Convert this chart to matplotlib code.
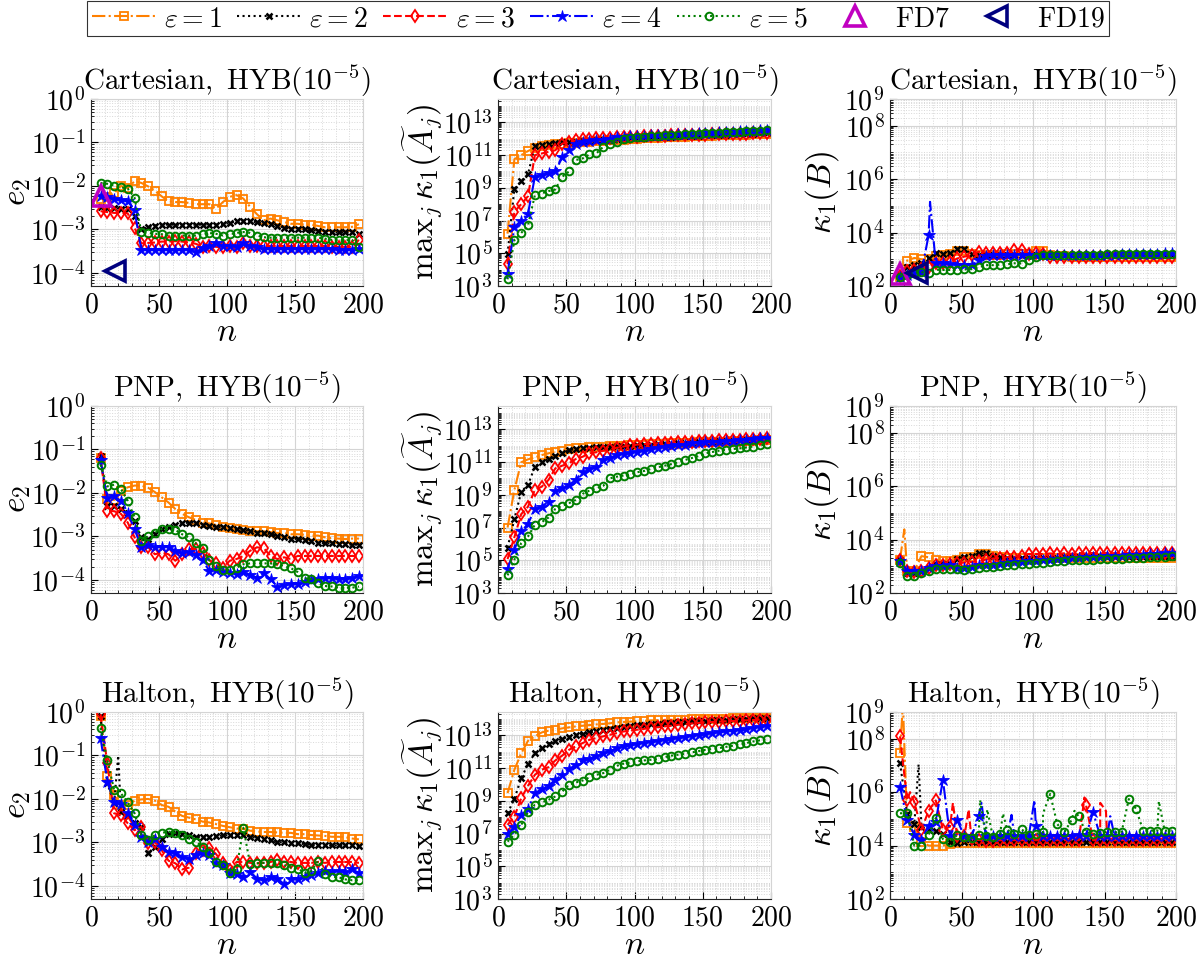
import matplotlib

matplotlib.use("Agg")
import matplotlib.pyplot as plt
import numpy as np
from matplotlib.lines import Line2D
from matplotlib.ticker import FixedLocator, FuncFormatter, LogLocator, MultipleLocator, NullFormatter

plt.rcParams["mathtext.fontset"] = "cm"
plt.rcParams["font.family"] = ["DejaVu Serif"]

# sample sizes at which the markers sit
N = np.arange(7, 198, 5)

# all values are log10 of the plotted quantity, one list per epsilon (1..5)
cart_e2 = [
    [-2.30, -2.26, -2.17, -2.00, -2.05, -1.89, -1.93, -2.01, -2.11, -2.24,
     -2.35, -2.37, -2.37, -2.39, -2.42, -2.42, -2.42, -2.52, -2.37, -2.25,
     -2.21, -2.29, -2.48, -2.65, -2.79, -2.75, -2.79, -2.83, -2.87, -2.87,
     -2.89, -2.89, -2.92, -2.95, -2.95, -2.95, -2.95, -2.94, -2.88],
    [-2.48, -2.50, -2.51, -2.52, -2.53, -2.68, -3.00, -2.95, -2.91, -2.89,
     -2.89, -2.89, -2.89, -2.89, -2.89, -2.89, -2.89, -2.89, -2.88, -2.85,
     -2.81, -2.80, -2.81, -2.84, -2.85, -2.87, -2.91, -2.96, -2.98, -2.98,
     -3.00, -3.02, -3.03, -3.05, -3.07, -3.07, -3.07, -3.07, -3.10],
    [-2.58, -2.60, -2.62, -2.62, -2.63, -2.96, -3.32, -3.31, -3.30, -3.28,
     -3.28, -3.27, -3.28, -3.30, -3.33, -3.40, -3.37, -3.40, -3.41, -3.37,
     -3.40, -3.32, -3.37, -3.38, -3.38, -3.38, -3.38, -3.38, -3.38, -3.38,
     -3.38, -3.38, -3.38, -3.38, -3.40, -3.40, -3.40, -3.40, -3.24],
    [-2.22, -2.25, -2.31, -2.33, -2.35, -2.56, -3.47, -3.47, -3.47, -3.47,
     -3.47, -3.47, -3.47, -3.47, -3.52, -3.43, -3.37, -3.32, -3.37, -3.37,
     -3.40, -3.32, -3.37, -3.41, -3.45, -3.45, -3.45, -3.45, -3.45, -3.45,
     -3.45, -3.45, -3.45, -3.45, -3.45, -3.48, -3.48, -3.47, -3.46],
    [-1.93, -1.95, -1.99, -2.03, -2.06, -2.27, -3.06, -3.08, -3.10, -3.11,
     -3.14, -3.14, -3.14, -3.14, -3.14, -3.10, -3.08, -3.10, -3.14, -3.11,
     -3.08, -3.06, -3.08, -3.14, -3.18, -3.19, -3.19, -3.19, -3.19, -3.19,
     -3.19, -3.19, -3.19, -3.21, -3.24, -3.25, -3.25, -3.24, -3.41],
]

cart_ka = [
    [6.20, 10.75, 11.00, 11.25, 11.45, 11.55, 11.60, 11.65, 11.70, 11.73,
     11.76, 11.80, 11.82, 11.85, 11.87, 11.90, 11.92, 11.95, 11.97, 12.00,
     12.02, 12.04, 12.06, 12.08, 12.10, 12.11, 12.12, 12.14, 12.15, 12.17,
     12.18, 12.20, 12.21, 12.22, 12.24, 12.25, 12.27, 12.28, 12.30],
    [4.95, 8.95, 9.40, 9.85, 11.55, 11.62, 11.68, 11.75, 11.78, 11.80,
     11.83, 11.86, 11.88, 11.90, 11.92, 11.95, 11.97, 12.00, 12.02, 12.04,
     12.06, 12.08, 12.10, 12.12, 12.13, 12.15, 12.16, 12.18, 12.19, 12.21,
     12.22, 12.24, 12.25, 12.27, 12.28, 12.30, 12.31, 12.33, 12.34],
    [4.33, 7.53, 8.00, 8.49, 11.00, 11.10, 11.20, 11.30, 11.70, 11.80,
     11.90, 11.98, 12.00, 12.02, 12.04, 12.06, 12.08, 12.10, 12.12, 12.13,
     12.15, 12.16, 12.18, 12.19, 12.20, 12.21, 12.22, 12.23, 12.25, 12.26,
     12.27, 12.28, 12.29, 12.30, 12.31, 12.32, 12.33, 12.34, 12.35],
    [3.75, 6.60, 7.00, 7.43, 9.67, 9.78, 9.88, 10.00, 10.86, 11.30,
     11.70, 11.80, 11.88, 11.90, 11.95, 11.98, 12.08, 12.12, 12.14, 12.16,
     12.18, 12.20, 12.22, 12.24, 12.26, 12.28, 12.30, 12.32, 12.34, 12.36,
     12.38, 12.40, 12.42, 12.44, 12.46, 12.48, 12.50, 12.52, 12.55],
    [3.41, 5.80, 6.24, 6.71, 8.55, 8.65, 8.80, 8.90, 9.67, 10.00,
     10.70, 10.80, 11.04, 11.10, 11.50, 11.70, 11.78, 12.00, 12.05, 12.08,
     12.12, 12.15, 12.18, 12.20, 12.23, 12.25, 12.28, 12.30, 12.32, 12.34,
     12.36, 12.38, 12.40, 12.42, 12.44, 12.46, 12.48, 12.50, 12.52],
]

cart_kb = [
    [2.35, 2.95, 3.05, 3.00, 3.00, 3.11, 3.15, 3.18, 3.30, 3.32,
     3.20, 3.17, 3.17, 3.17, 3.17, 3.20, 3.20, 3.20, 3.20, 3.30,
     3.30, 3.17, 3.12, 3.12, 3.10, 3.10, 3.10, 3.10, 3.10, 3.10,
     3.10, 3.10, 3.10, 3.10, 3.10, 3.10, 3.10, 3.10, 3.10],
    [2.40, 2.70, 2.80, 2.85, 3.05, 3.23, 3.20, 3.22, 3.40, 3.40,
     3.18, 3.15, 3.15, 3.15, 3.15, 3.15, 3.15, 3.15, 3.15, 3.15,
     3.15, 3.15, 3.15, 3.15, 3.15, 3.15, 3.15, 3.15, 3.15, 3.15,
     3.15, 3.15, 3.15, 3.15, 3.15, 3.15, 3.15, 3.15, 3.15],
    [2.38, 2.55, 2.60, 2.65, 2.70, 2.86, 2.85, 2.90, 3.03, 3.10,
     3.15, 3.28, 3.25, 3.22, 3.22, 3.22, 3.36, 3.36, 3.20, 3.25,
     3.18, 3.10, 3.08, 3.08, 3.08, 3.08, 3.08, 3.08, 3.08, 3.08,
     3.08, 3.08, 3.08, 3.08, 3.08, 3.08, 3.08, 3.08, 3.08],
    [2.35, 2.40, 2.48, 2.52, 3.90, 2.85, 2.85, 2.82, 2.80, 2.78,
     2.77, 2.96, 3.12, 3.15, 3.15, 3.15, 3.15, 3.15, 3.15, 3.15,
     3.15, 3.15, 3.15, 3.15, 3.15, 3.15, 3.15, 3.15, 3.15, 3.15,
     3.17, 3.18, 3.18, 3.19, 3.20, 3.20, 3.21, 3.22, 3.22],
    [2.35, 2.43, 2.50, 2.52, 2.47, 2.61, 2.60, 2.60, 2.61, 2.62,
     2.63, 2.70, 2.78, 2.78, 2.80, 2.81, 2.85, 2.84, 2.99, 3.08,
     3.15, 3.15, 3.15, 3.15, 3.15, 3.15, 3.15, 3.17, 3.17, 3.18,
     3.18, 3.18, 3.19, 3.19, 3.20, 3.20, 3.20, 3.20, 3.20],
]

pnp_e2 = [
    [-1.19, -2.14, -2.16, -1.95, -1.87, -1.83, -1.83, -1.88, -1.98, -2.10,
     -2.22, -2.37, -2.48, -2.56, -2.62, -2.68, -2.70, -2.74, -2.78, -2.81,
     -2.83, -2.85, -2.87, -2.88, -2.88, -2.90, -2.92, -2.92, -2.95, -2.95,
     -2.96, -2.98, -2.98, -3.02, -3.04, -3.05, -3.06, -3.05, -3.05],
    [-1.16, -2.29, -2.29, -2.37, -2.45, -2.64, -3.02, -3.06, -2.95, -2.83,
     -2.78, -2.74, -2.70, -2.68, -2.68, -2.73, -2.75, -2.78, -2.79, -2.81,
     -2.83, -2.85, -2.88, -2.91, -2.92, -2.95, -2.98, -3.02, -3.05, -3.06,
     -3.08, -3.10, -3.14, -3.16, -3.16, -3.18, -3.18, -3.19, -3.19],
    [-1.19, -2.41, -2.42, -2.48, -2.68, -3.02, -3.25, -3.25, -3.41, -3.37,
     -3.41, -3.56, -3.41, -3.29, -3.29, -3.37, -3.55, -3.62, -3.72, -3.56,
     -3.52, -3.45, -3.33, -3.25, -3.27, -3.45, -3.52, -3.48, -3.52, -3.45,
     -3.45, -3.45, -3.45, -3.45, -3.45, -3.45, -3.45, -3.45, -3.45],
    [-1.25, -2.12, -2.08, -2.18, -2.45, -2.83, -3.25, -3.20, -3.25, -3.24,
     -3.24, -3.33, -3.37, -3.35, -3.43, -3.55, -3.79, -3.78, -3.81, -3.83,
     -3.87, -3.82, -3.88, -3.95, -3.85, -3.98, -4.16, -4.12, -4.10, -4.10,
     -4.04, -4.01, -3.98, -3.96, -3.96, -3.98, -3.98, -3.96, -3.91],
    [-1.35, -1.85, -1.81, -1.91, -2.18, -2.56, -3.10, -3.00, -2.91, -2.83,
     -2.83, -2.85, -2.95, -3.02, -3.16, -3.27, -3.55, -3.68, -3.77, -3.77,
     -3.72, -3.64, -3.62, -3.62, -3.62, -3.62, -3.64, -3.68, -3.73, -3.82,
     -3.96, -3.98, -4.08, -4.14, -4.15, -4.18, -4.18, -4.18, -4.15],
]

pnp_ka = [
    [7.00, 9.30, 10.99, 11.17, 11.29, 11.43, 11.54, 11.64, 11.70, 11.78,
     11.84, 11.87, 11.90, 11.92, 11.94, 11.96, 11.98, 12.00, 12.02, 12.04,
     12.06, 12.08, 12.10, 12.12, 12.14, 12.15, 12.17, 12.18, 12.20, 12.21,
     12.23, 12.24, 12.26, 12.27, 12.29, 12.30, 12.32, 12.33, 12.35],
    [5.78, 7.50, 9.20, 9.60, 10.72, 11.03, 11.19, 11.40, 11.58, 11.72,
     11.80, 11.85, 11.88, 11.91, 11.93, 11.95, 11.97, 11.99, 12.01, 12.03,
     12.05, 12.07, 12.09, 12.11, 12.13, 12.15, 12.17, 12.19, 12.21, 12.23,
     12.25, 12.27, 12.29, 12.31, 12.33, 12.35, 12.37, 12.39, 12.41],
    [5.07, 6.41, 7.82, 8.28, 9.30, 9.50, 9.91, 10.62, 10.78, 10.93,
     11.19, 11.33, 11.54, 11.60, 11.70, 11.78, 11.88, 11.95, 12.04, 12.07,
     12.10, 12.13, 12.15, 12.17, 12.19, 12.21, 12.23, 12.25, 12.27, 12.29,
     12.31, 12.33, 12.35, 12.37, 12.38, 12.40, 12.42, 12.43, 12.45],
    [4.48, 5.64, 6.76, 7.23, 8.14, 8.28, 8.59, 9.24, 9.44, 9.60,
     9.91, 10.42, 10.58, 10.72, 11.13, 11.27, 11.43, 11.52, 11.58, 11.64,
     11.70, 11.80, 11.87, 11.94, 11.98, 12.02, 12.06, 12.15, 12.18, 12.20,
     12.23, 12.26, 12.29, 12.32, 12.35, 12.38, 12.42, 12.46, 12.50],
    [4.08, 5.03, 6.05, 6.46, 7.17, 7.33, 7.61, 8.14, 8.33, 8.49,
     8.69, 9.06, 9.26, 9.40, 9.54, 10.01, 10.11, 10.18, 10.26, 10.38,
     10.46, 10.58, 10.68, 10.78, 10.88, 10.99, 11.13, 11.25, 11.37, 11.54,
     11.62, 11.70, 11.76, 11.80, 11.84, 11.90, 11.95, 12.02, 12.08],
]

pnp_kb = [
    [3.25, 2.84, 2.84, 3.38, 3.34, 3.25, 3.19, 3.19, 3.25, 3.36,
     3.36, 3.46, 3.46, 3.38, 3.34, 3.31, 3.31, 3.31, 3.31, 3.31,
     3.31, 3.31, 3.31, 3.31, 3.31, 3.31, 3.31, 3.31, 3.31, 3.31,
     3.31, 3.31, 3.31, 3.31, 3.31, 3.31, 3.31, 3.31, 3.31],
    [3.25, 2.75, 2.75, 2.84, 2.94, 3.09, 3.09, 3.09, 3.29, 3.36,
     3.40, 3.48, 3.48, 3.40, 3.34, 3.31, 3.31, 3.31, 3.31, 3.31,
     3.32, 3.32, 3.32, 3.33, 3.33, 3.33, 3.34, 3.34, 3.34, 3.35,
     3.35, 3.35, 3.35, 3.35, 3.35, 3.35, 3.36, 3.36, 3.36],
    [3.25, 2.81, 2.78, 2.84, 2.94, 3.03, 3.06, 3.09, 3.11, 3.14,
     3.16, 3.19, 3.25, 3.29, 3.31, 3.34, 3.36, 3.40, 3.46, 3.46,
     3.46, 3.48, 3.46, 3.49, 3.47, 3.50, 3.48, 3.50, 3.48, 3.50,
     3.49, 3.50, 3.49, 3.50, 3.49, 3.50, 3.49, 3.50, 3.50],
    [3.19, 2.84, 2.81, 2.84, 2.94, 3.00, 3.00, 3.03, 2.94, 2.94,
     2.96, 3.03, 3.04, 3.06, 3.09, 3.12, 3.15, 3.16, 3.19, 3.21,
     3.23, 3.25, 3.27, 3.29, 3.30, 3.32, 3.33, 3.35, 3.36, 3.38,
     3.39, 3.40, 3.42, 3.43, 3.44, 3.45, 3.46, 3.48, 3.50],
    [3.12, 2.65, 2.65, 2.75, 2.81, 2.91, 2.91, 2.91, 2.88, 2.86,
     2.89, 2.94, 2.97, 2.99, 3.01, 3.05, 3.06, 3.09, 3.10, 3.11,
     3.14, 3.16, 3.19, 3.21, 3.22, 3.23, 3.24, 3.25, 3.26, 3.27,
     3.28, 3.29, 3.30, 3.31, 3.32, 3.33, 3.34, 3.35, 3.37],
]

halton_e2 = [
    [-0.10, -1.48, -1.90, -2.14, -2.14, -2.04, -2.01, -2.00, -2.04, -2.14,
     -2.18, -2.29, -2.39, -2.43, -2.47, -2.52, -2.54, -2.58, -2.62, -2.65,
     -2.68, -2.69, -2.73, -2.75, -2.76, -2.76, -2.77, -2.78, -2.78, -2.81,
     -2.81, -2.83, -2.84, -2.85, -2.87, -2.87, -2.88, -2.91, -2.93],
    [-0.10, -1.64, -2.10, -2.30, -2.40, -2.56, -2.64, -3.25, -3.10, -2.93,
     -2.81, -2.78, -2.81, -2.83, -2.87, -2.88, -2.88, -2.85, -2.84, -2.83,
     -2.83, -2.83, -2.87, -2.90, -2.93, -2.95, -2.99, -3.00, -3.02, -3.02,
     -3.04, -3.06, -3.06, -3.06, -3.07, -3.07, -3.06, -3.07, -3.08],
    [-0.05, -1.18, -2.33, -2.37, -2.56, -2.72, -2.64, -3.02, -3.00, -3.18,
     -3.42, -3.48, -3.62, -3.58, -3.25, -3.18, -3.12, -3.27, -3.48, -3.64,
     -3.45, -3.45, -3.47, -3.48, -3.47, -3.45, -3.41, -3.45, -3.45, -3.47,
     -3.47, -3.47, -3.45, -3.47, -3.45, -3.45, -3.45, -3.45, -3.47],
    [-0.60, -1.60, -2.08, -2.12, -2.32, -2.60, -2.87, -2.98, -2.93, -3.10,
     -3.22, -3.24, -3.33, -3.37, -3.29, -3.25, -3.29, -3.47, -3.52, -3.70,
     -3.72, -3.79, -3.67, -3.83, -3.87, -3.79, -3.83, -3.96, -3.85, -3.85,
     -3.79, -3.75, -3.70, -3.65, -3.67, -3.65, -3.67, -3.62, -3.70],
    [-0.37, -1.10, -1.79, -1.87, -2.08, -2.33, -2.83, -2.95, -2.83, -2.78,
     -2.75, -2.78, -2.82, -2.91, -2.98, -3.10, -3.25, -3.45, -3.52, -3.70,
     -3.62, -2.66, -3.50, -3.48, -3.47, -3.47, -3.48, -3.52, -3.58, -3.60,
     -3.70, -3.66, -3.42, -3.73, -3.79, -3.80, -3.85, -3.87, -3.87],
]

halton_ka = [
    [9.47, 10.90, 11.90, 12.67, 12.94, 13.18, 13.29, 13.35, 13.43, 13.49,
     13.55, 13.59, 13.63, 13.67, 13.70, 13.74, 13.80, 13.82, 13.84, 13.86,
     13.88, 13.92, 13.93, 13.94, 13.95, 13.96, 13.97, 13.98, 13.99, 14.00,
     14.01, 14.02, 14.03, 14.04, 14.05, 14.06, 14.07, 14.07, 14.08],
    [8.24, 9.12, 10.39, 11.24, 11.92, 12.22, 12.49, 12.67, 12.80, 12.92,
     13.04, 13.10, 13.18, 13.26, 13.35, 13.41, 13.47, 13.51, 13.55, 13.61,
     13.65, 13.69, 13.72, 13.75, 13.78, 13.81, 13.84, 13.86, 13.88, 13.90,
     13.92, 13.94, 13.96, 13.98, 14.00, 14.02, 14.04, 14.06, 14.08],
    [7.53, 8.04, 9.16, 9.92, 10.59, 10.90, 11.06, 11.47, 11.76, 12.12,
     12.33, 12.53, 12.73, 12.84, 12.94, 13.04, 13.14, 13.24, 13.29, 13.35,
     13.40, 13.45, 13.50, 13.55, 13.59, 13.65, 13.69, 13.73, 13.76, 13.80,
     13.82, 13.84, 13.86, 13.88, 13.90, 13.92, 13.94, 13.96, 13.96],
    [6.98, 7.43, 8.14, 8.49, 9.47, 9.71, 9.92, 10.29, 10.59, 10.94,
     11.20, 11.47, 11.57, 11.76, 11.92, 12.02, 12.22, 12.33, 12.40, 12.47,
     12.53, 12.59, 12.66, 12.73, 12.79, 12.84, 12.90, 12.98, 13.04, 13.08,
     13.14, 13.20, 13.24, 13.29, 13.35, 13.39, 13.43, 13.49, 13.59],
    [6.51, 6.92, 7.53, 8.31, 8.76, 8.90, 9.06, 9.27, 9.57, 9.98,
     10.12, 10.24, 10.43, 10.59, 10.69, 10.90, 11.14, 11.27, 11.35, 11.41,
     11.47, 11.51, 11.55, 11.67, 11.76, 11.82, 11.88, 11.96, 12.04, 12.12,
     12.17, 12.22, 12.30, 12.37, 12.47, 12.53, 12.63, 12.70, 12.78],
]

halton_kb = [
    [7.46, 4.84, 4.70, 4.15, 4.00, 4.00, 4.00, 4.05, 4.08, 4.10,
     4.10, 4.10, 4.11, 4.11, 4.11, 4.11, 4.11, 4.11, 4.11, 4.11,
     4.11, 4.11, 4.11, 4.11, 4.11, 4.11, 4.11, 4.11, 4.11, 4.11,
     4.11, 4.11, 4.11, 4.11, 4.11, 4.11, 4.11, 4.11, 4.11],
    [7.09, 5.20, 4.80, 4.71, 4.60, 4.56, 4.45, 4.13, 4.09, 4.14,
     4.12, 4.15, 4.15, 4.15, 4.15, 4.15, 4.15, 4.15, 4.15, 4.15,
     4.15, 4.15, 4.15, 4.15, 4.15, 4.15, 4.15, 4.15, 4.15, 4.15,
     4.15, 4.15, 4.15, 4.15, 4.15, 4.15, 4.15, 4.15, 4.15],
    [8.09, 5.70, 5.63, 4.60, 5.30, 5.69, 4.59, 4.71, 4.34, 4.34,
     4.24, 4.21, 4.18, 4.18, 4.20, 4.20, 4.20, 4.20, 4.20, 4.20,
     4.20, 4.20, 4.20, 4.20, 4.20, 4.20, 5.53, 4.20, 4.20, 4.20,
     4.20, 4.20, 4.20, 4.20, 4.20, 4.20, 4.20, 4.20, 4.20],
    [6.21, 4.96, 4.40, 4.21, 4.75, 4.90, 6.46, 4.34, 4.96, 4.34,
     4.34, 5.09, 4.34, 4.34, 4.34, 4.34, 4.34, 4.34, 4.34, 4.75,
     4.36, 4.36, 4.36, 4.36, 4.36, 4.40, 4.36, 5.25, 4.36, 4.36,
     4.36, 4.36, 4.36, 4.36, 4.36, 4.36, 4.36, 4.36, 4.36],
    [5.21, 5.21, 4.00, 4.00, 4.40, 5.03, 4.24, 4.13, 4.40, 4.31,
     4.28, 4.38, 4.34, 4.31, 4.43, 4.59, 4.44, 4.61, 4.40, 4.44,
     4.49, 5.93, 4.80, 4.50, 4.96, 5.09, 4.50, 4.44, 4.46, 4.52,
     4.49, 4.52, 5.74, 5.38, 4.56, 4.56, 4.56, 4.56, 4.56],
]

# values between markers that show up as spikes in the lines: {series: [(n, log10 value)]}
cart_kb_spikes = {3: [(28, 5.15)]}
pnp_kb_spikes = {0: [(10, 4.38)]}
halton_e2_spikes = {1: [(20, -1.0)], 4: [(64, -2.75)]}
halton_kb_spikes = {
    0: [(9, 9.3)],
    1: [(20, 7.04)],
    2: [(14, 6.0), (44, 5.6), (55, 5.35), (136, 5.8), (147, 5.6), (151, 5.3)],
    3: [(64, 5.6), (85, 5.15), (101, 5.7), (154, 5.1)],
    4: [(63, 5.7), (68, 5.35), (79, 5.2), (107, 5.2), (129, 5.3), (188, 5.66)],
}

# FD reference points: (n, value)
fd7_cart_e2 = (7, 5.8e-3)
fd19_cart_e2 = (18, 1.1e-4)
fd7_cart_kb = (7, 2.9e2)
fd19_cart_kb = (19, 3.2e2)

legend_labels = [r"$\varepsilon = 1$", r"$\varepsilon = 2$", r"$\varepsilon = 3$",
                 r"$\varepsilon = 4$", r"$\varepsilon = 5$", r"$\mathrm{FD7}$", r"$\mathrm{FD19}$"]
row_titles = ["Cartesian", "PNP", "Halton"]
ylabels = [r"$e_2$", r"$\mathrm{max}_j\,\kappa_1(\widetilde{A}_j)$", r"$\kappa_1(B)$"]

STYLES = [
    dict(color="#ff8000", ls="-.", marker="s", ms=5.5, mfc="none", mew=1.3),
    dict(color="k", ls=":", marker="x", ms=4.0, mew=1.8),
    dict(color="#ff0000", ls="--", marker="d", ms=6.5, mfc="none", mew=1.3),
    dict(color="#0000ff", ls="-.", marker="*", ms=9, mew=0.6),
    dict(color="#007f00", ls=":", marker="o", ms=5.5, mfc="none", mew=1.4),
]
FD7_STYLE = dict(ls="none", marker="^", ms=15, mfc="none", mec="#c000c0", mew=2.6)
FD19_STYLE = dict(ls="none", marker="<", ms=15, mfc="none", mec="#00007f", mew=2.6)


def draw(ax, series, spikes=None):
    spikes = spikes or {}
    for k, logv in enumerate(series):
        assert len(logv) == len(N), (k, len(logv))
        n_line = list(N) + [p[0] for p in spikes.get(k, [])]
        v_line = list(logv) + [p[1] for p in spikes.get(k, [])]
        order = np.argsort(n_line, kind="stable")
        n_line = np.asarray(n_line)[order]
        v_line = 10.0 ** np.asarray(v_line)[order]
        marks = [int(i) for i in np.nonzero(order < len(N))[0]]
        ax.plot(n_line, v_line, lw=1.5, markevery=marks, **STYLES[k])


def style_axis(ax, col):
    ax.set_yscale("log")
    ax.set_xlim(0, 200)
    if col == 0:
        ax.set_ylim(5e-5, 1)
        ticks = [1e-4, 1e-3, 1e-2, 1e-1, 1]
    elif col == 1:
        ax.set_ylim(1e3, 10 ** 14.43)
        ticks = [1e3, 1e5, 1e7, 1e9, 1e11, 1e13]
    else:
        ax.set_ylim(1e2, 1e9)
        ticks = [1e2, 1e4, 1e6, 1e8, 1e9]
    ax.yaxis.set_major_locator(FixedLocator(ticks))
    ax.yaxis.set_major_formatter(FuncFormatter(lambda v, p: r"$10^{%d}$" % round(np.log10(v))))
    ax.yaxis.set_minor_locator(LogLocator(base=10, subs=np.arange(1, 10), numticks=100))
    ax.yaxis.set_minor_formatter(NullFormatter())
    ax.xaxis.set_major_locator(MultipleLocator(50))
    ax.xaxis.set_minor_locator(MultipleLocator(10))
    ax.xaxis.set_major_formatter(FuncFormatter(lambda v, p: r"$%d$" % v))
    ax.grid(True, which="major", color="#d4d4d4", lw=0.8)
    ax.grid(True, which="minor", color="#d8d8d8", ls=":", lw=0.7)
    ax.set_axisbelow(True)
    ax.tick_params(which="both", direction="in", labelsize=20, top=False, right=False)
    ax.tick_params(which="major", length=5, width=0.8, pad=4)
    ax.tick_params(which="minor", length=2.5, width=0.6)
    for s in ("top", "right"):
        ax.spines[s].set_color("#d4d4d4")
    for s in ("left", "bottom"):
        ax.spines[s].set_color("#262626")
        ax.spines[s].set_linewidth(0.8)


fig = plt.figure(figsize=(12.01, 9.74), dpi=100)
fig.patch.set_facecolor("white")

W, H = 1201.0, 974.0
lefts = [91, 498, 890]
widths = [272, 273, 286]
tops = [99, 406, 712]
AX_H = 187
# horizontal centre of each column's y label, in pixels
ylabel_x = [17, 422, 822]

panels = [
    [cart_e2, cart_ka, cart_kb],
    [pnp_e2, pnp_ka, pnp_kb],
    [halton_e2, halton_ka, halton_kb],
]
panel_spikes = [
    [None, None, cart_kb_spikes],
    [None, None, pnp_kb_spikes],
    [halton_e2_spikes, None, halton_kb_spikes],
]

for r in range(3):
    for c in range(3):
        ax = fig.add_axes([lefts[c] / W, 1 - (tops[r] + AX_H) / H, widths[c] / W, AX_H / H])
        style_axis(ax, c)
        draw(ax, panels[r][c], panel_spikes[r][c])
        if r == 0 and c == 0:
            ax.plot(*fd7_cart_e2, **FD7_STYLE)
            ax.plot(*fd19_cart_e2, **FD19_STYLE)
        if r == 0 and c == 2:
            ax.plot(*fd7_cart_kb, **FD7_STYLE)
            ax.plot(*fd19_cart_kb, **FD19_STYLE)
        ax.set_title(r"$\mathrm{%s,\ HYB}(10^{-5})$" % row_titles[r], fontsize=21, pad=6)
        ax.set_xlabel(r"$n$", fontsize=24, labelpad=-2)
        ax.set_ylabel(ylabels[c], fontsize=24, va="center")
        ax.yaxis.set_label_coords((ylabel_x[c] - lefts[c]) / widths[c], 0.5)

handles = [Line2D([], [], lw=1.5, **st) for st in STYLES]
handles.append(Line2D([], [], **FD7_STYLE))
handles.append(Line2D([], [], **FD19_STYLE))
leg = fig.legend(handles, legend_labels, loc="upper center", bbox_to_anchor=(0.4983, 0.999),
                 ncol=7, fontsize=20, frameon=True, fancybox=False, edgecolor="k",
                 handlelength=2.3, handletextpad=0.3, columnspacing=0.55, borderpad=0.15,
                 borderaxespad=0.0)
leg.get_frame().set_linewidth(0.8)

fig.savefig("out.png", dpi=100, facecolor="white")
